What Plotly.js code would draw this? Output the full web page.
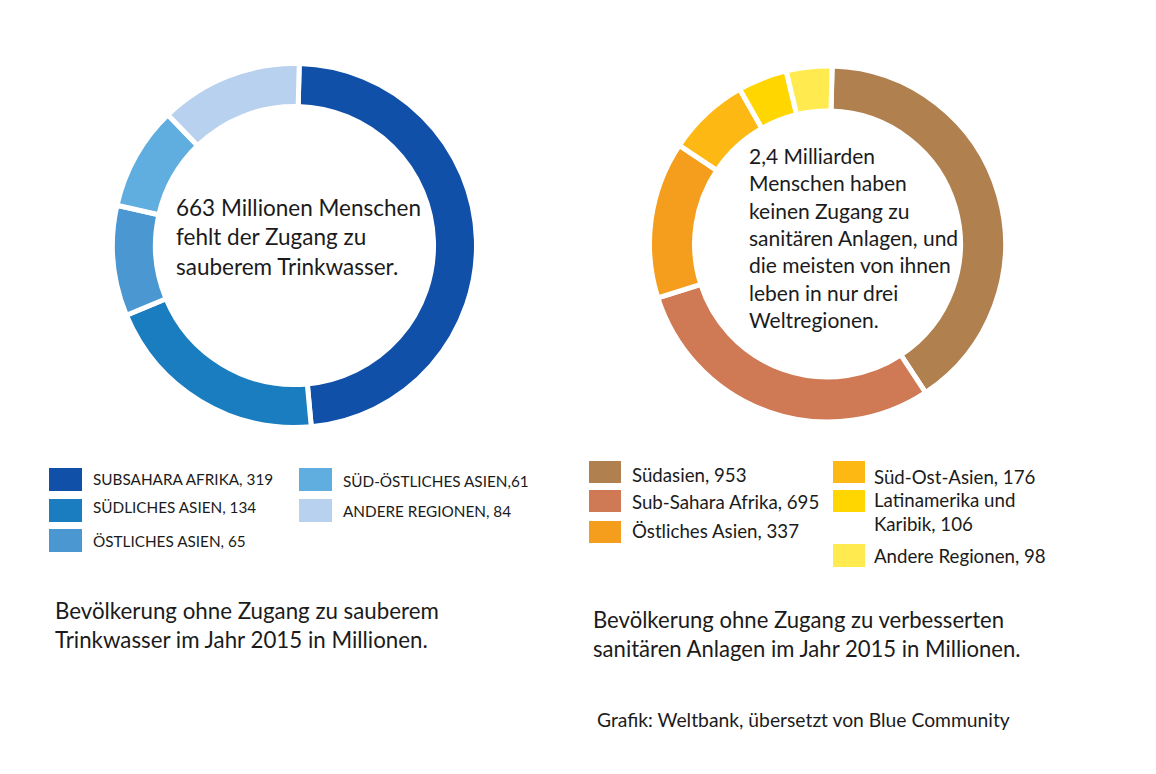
<!DOCTYPE html>
<html><head><meta charset="utf-8">
<script src="https://cdn.plot.ly/plotly-3.0.1.min.js"></script>
<style>html,body{margin:0;padding:0;background:#fff}#chart{width:1156px;height:774px}</style>
</head><body><div id="chart"></div>
<script>
// ---- data ----
const waterRegions = ["SUBSAHARA AFRIKA", "SÜDLICHES ASIEN", "ÖSTLICHES ASIEN", "SÜD-ÖSTLICHES ASIEN", "ANDERE REGIONEN"];
const waterValues = [319, 134, 65, 61, 84];
const waterLegendSep = [", ", ", ", ", ", ",", ", "];
const sanRegions = ["Südasien", "Sub-Sahara Afrika", "Östliches Asien", "Süd-Ost-Asien", "Latinamerika und<br>Karibik", "Andere Regionen"];
const sanValues = [953, 695, 337, 176, 106, 98];
const waterCenter = "663 Millionen Menschen<br>fehlt der Zugang zu<br>sauberem Trinkwasser.";
const sanCenter = "2,4 Milliarden<br>Menschen haben<br>keinen Zugang zu<br>sanitären Anlagen, und<br>die meisten von ihnen<br>leben in nur drei<br>Weltregionen.";
const waterCaption = "Bevölkerung ohne Zugang zu sauberem<br>Trinkwasser im Jahr 2015 in Millionen.";
const sanCaption = "Bevölkerung ohne Zugang zu verbesserten<br>sanitären Anlagen im Jahr 2015 in Millionen.";
const source = "Grafik: Weltbank, übersetzt von Blue Community";

// ---- styles / positions ----
const W = 1156, H = 774;
const FONT = "Lato, 'Open Sans', sans-serif";
const TXT = "#1b1b1b";
const waterColors = ["#1050a8", "#1a7dc0", "#4a97d2", "#60aee0", "#b8d1ee"];
const sanColors = ["#b0804f", "#d07a55", "#f59d1c", "#fdb813", "#ffd600", "#ffeb4f"];
// legend swatch boxes [x0,y0,x1,y1] and text anchor [x,yCenter]
const waterBoxes = [[49,468,82,491],[49,499,82,522],[49,529,82,552],[299,468,332,491],[299,499,332,522]];
const waterText = [[91,479],[91,507],[91,541],[341,481],[341,511]];
const sanBoxes = [[589,461,621,483],[589,490,621,512],[589,521,621,543],[833,461,865,483],[833,490,865,512],[833,544,865,567]];
const sanText = [[630,475],[630,502],[630,531],[872,477],[872,512],[872,556]];

const px = x => x / W, py = y => 1 - y / H;
function dom(cx, cy, r) { return {x: [px(cx - r), px(cx + r)], y: [py(cy + r), py(cy - r)]}; }

const traces = [
  {type: "pie", values: waterValues, labels: waterRegions, sort: false, direction: "clockwise", rotation: 1.5,
   hole: 0.764, domain: dom(294.5, 245.5, 182), textinfo: "none", hoverinfo: "label+value",
   marker: {colors: waterColors, line: {color: "#ffffff", width: 5}}, showlegend: false},
  {type: "pie", values: sanValues, labels: sanRegions, sort: false, direction: "clockwise", rotation: 1.5,
   hole: 0.747, domain: dom(827.5, 244, 178), textinfo: "none", hoverinfo: "label+value",
   marker: {colors: sanColors, line: {color: "#ffffff", width: 5}}, showlegend: false}
];

const shapes = [], annotations = [];
function addLegend(names, values, seps, colors, boxes, texts, size) {
  names.forEach((n, i) => {
    const b = boxes[i];
    shapes.push({type: "rect", xref: "paper", yref: "paper", x0: px(b[0]), x1: px(b[2]), y0: py(b[3]), y1: py(b[1]),
      fillcolor: colors[i], line: {width: 0}});
    annotations.push({xref: "paper", yref: "paper", x: px(texts[i][0]), y: py(texts[i][1]), xanchor: "left", yanchor: "middle",
      text: n + seps[i] + values[i], showarrow: false, align: "left", font: {family: FONT, size: size, color: TXT}});
  });
}
addLegend(waterRegions, waterValues, waterLegendSep, waterColors, waterBoxes, waterText, 15.3);
addLegend(sanRegions, sanValues, sanRegions.map(() => ", "), sanColors, sanBoxes, sanText, 18.7);

function note(text, x, yMid, size) {
  annotations.push({xref: "paper", yref: "paper", x: px(x), y: py(yMid), xanchor: "left", yanchor: "middle",
    text: text, showarrow: false, align: "left", font: {family: FONT, size: size, color: TXT}});
}
note(waterCenter, 174, 237, 22.5);
note(sanCenter, 747, 237, 21);
note(waterCaption, 53, 625, 22.3);
note(sanCaption, 591, 634, 22.1);
note(source, 595, 719, 19.3);

Plotly.newPlot("chart", traces, {
  width: W, height: H, margin: {l: 0, r: 0, t: 0, b: 0},
  paper_bgcolor: "#ffffff", plot_bgcolor: "#ffffff",
  shapes: shapes, annotations: annotations, showlegend: false
}, {displayModeBar: false, staticPlot: true});
</script></body></html>
